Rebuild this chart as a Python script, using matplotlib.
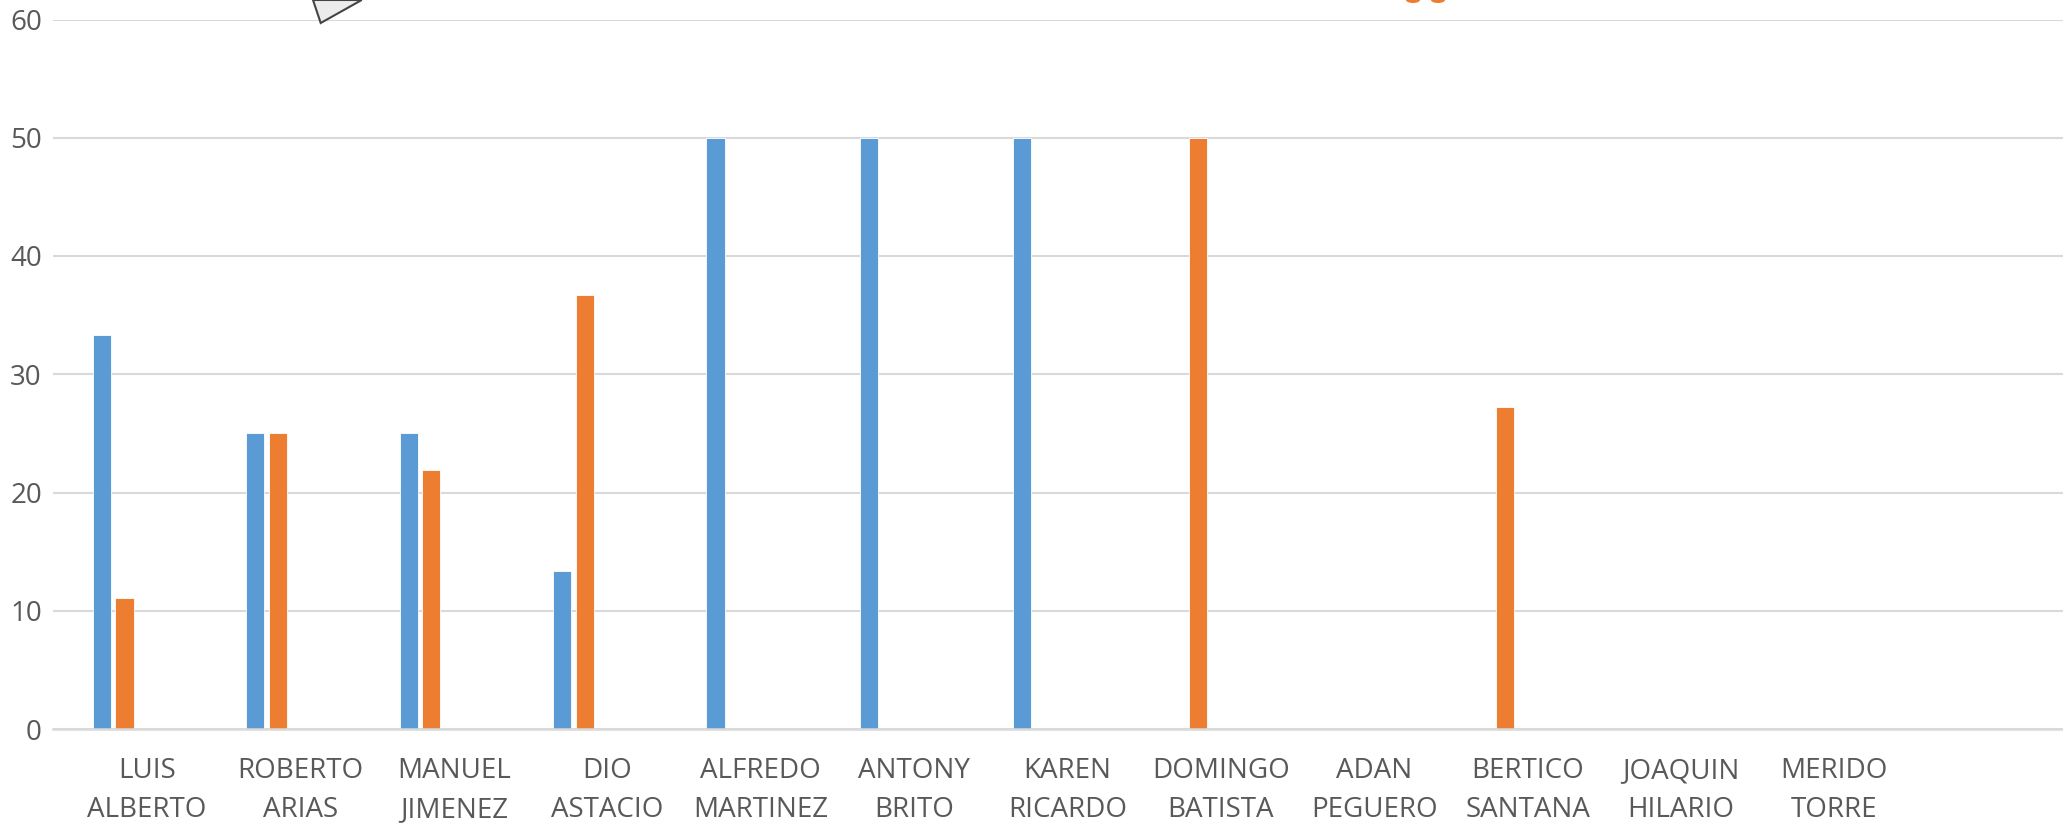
import matplotlib

matplotlib.use("Agg")
import matplotlib.pyplot as plt
import numpy as np
from matplotlib.patches import Ellipse, Polygon

# Data
names = [
    "LUIS\nALBERTO", "ROBERTO\nARIAS", "MANUEL\nJIMENEZ", "DIO\nASTACIO",
    "ALFREDO\nMARTINEZ", "ANTONY\nBRITO", "KAREN\nRICARDO", "DOMINGO\nBATISTA",
    "ADAN\nPEGUERO", "BERTICO\nSANTANA", "JOAQUIN\nHILARIO", "MERIDO\nTORRE",
]
series_blue = [33.33, 25, 25, 13.33, 50, 50, 50, 0, 0, 0, 0, 0]
series_orange = [11.11, 25, 21.88, 36.67, 0, 0, 0, 50, 0, 27.27, 0, 0]
y_ticks = [0, 10, 20, 30, 40, 50, 60]

BLUE = "#5b9bd5"
ORANGE = "#ed7d31"
GRID = "#d9d9d9"
TEXT = "#595959"

plt.rcParams["font.family"] = ["Open Sans", "DejaVu Sans"]

W, H = 2063, 823
fig = plt.figure(figsize=(W / 100, H / 100), dpi=100)
ax = fig.add_axes([53 / W, 1 - 729 / H, 1 - 53 / W, (729 - 19.5) / H])

# Excel-style cluster: five series slots per category, only the first two hold data
x = np.arange(len(names))
slot = 0.147
bar_w = 0.118
ax.bar(x - 2 * slot, series_blue, width=bar_w, color=BLUE, edgecolor="white", linewidth=0.6, zorder=3)
ax.bar(x - 1 * slot, series_orange, width=bar_w, color=ORANGE, edgecolor="white", linewidth=0.6, zorder=3)

ax.set_xlim(-0.613, 12.49)
ax.set_ylim(0, 60)
ax.set_yticks(y_ticks)
ax.set_yticklabels([str(v) for v in y_ticks], color=TEXT, fontsize=20)
ax.set_xticks(x)
ax.set_xticklabels(names, color=TEXT, fontsize=20, linespacing=1.5)
ax.tick_params(axis="both", length=0)
ax.tick_params(axis="y", pad=8)
ax.tick_params(axis="x", pad=20.5)

ax.grid(axis="y", color=GRID, linewidth=1.5, zorder=0)
for side in ["top", "right", "left"]:
    ax.spines[side].set_visible(False)
ax.spines["bottom"].set_color(GRID)
ax.spines["bottom"].set_linewidth(1.8)
ax.spines["bottom"].set_zorder(4)

# cropped decorations at the top edge of the picture
tri = Polygon(
    [(313 / W, 1.0), (320.7 / W, 1 - 23 / H), (361.7 / W, 1.0)],
    closed=True, transform=fig.transFigure, facecolor="#ececec",
    edgecolor="#444444", linewidth=1.5, zorder=5,
)
fig.patches.append(tri)
for cx in (1413, 1438):
    fig.patches.append(
        Ellipse((cx / W, 1.0), 14 / W, 6 / H, transform=fig.transFigure,
                facecolor=ORANGE, edgecolor="none", zorder=5)
    )

fig.savefig("out.png", dpi=100, facecolor="white")
plt.close(fig)
